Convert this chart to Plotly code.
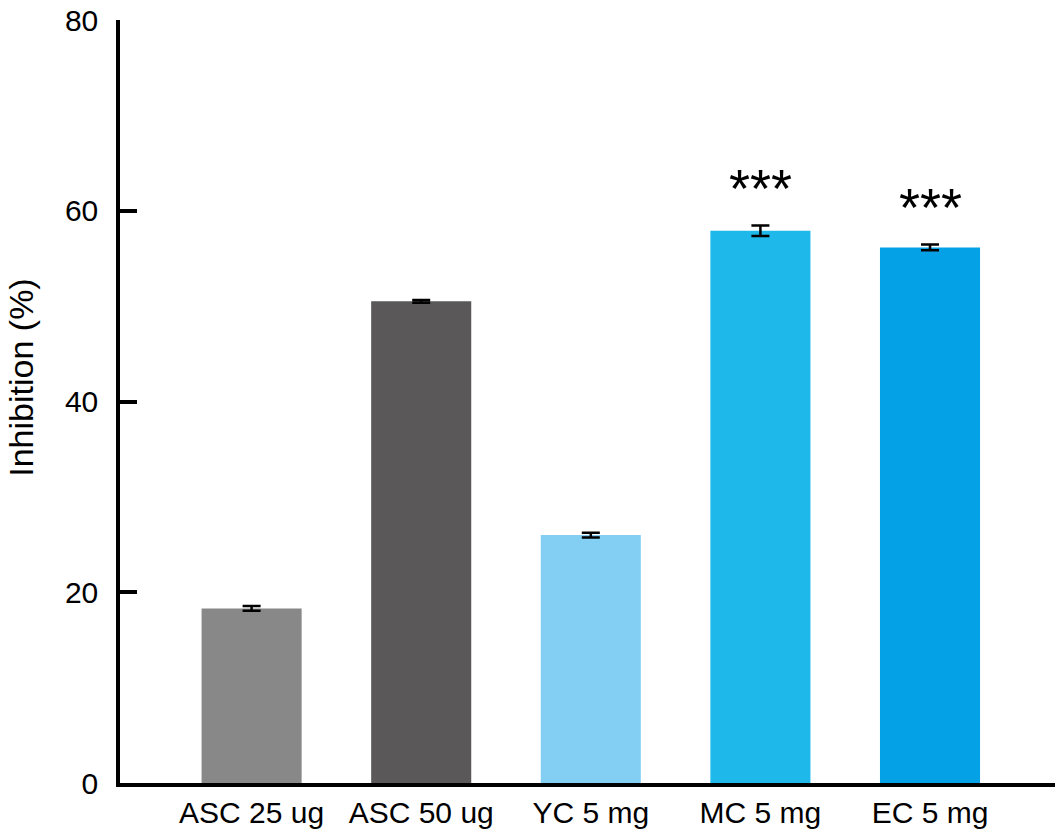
import plotly.graph_objects as go

categories = ["ASC 25 ug", "ASC 50 ug", "YC 5 mg", "MC 5 mg", "EC 5 mg"]
inhibition = [18.3, 50.5, 26.0, 57.9, 56.15]
errors = [0.25, 0.15, 0.25, 0.55, 0.3]
significance = ["", "", "", "***", "***"]
bar_colors = ["#888888", "#5a5859", "#83cff4", "#1fb8eb", "#05a1e6"]
y_ticks = [0, 20, 40, 60, 80]

fig = go.Figure()
fig.add_trace(go.Bar(
    x=categories, y=inhibition,
    marker=dict(color=bar_colors, line=dict(width=0)),
    width=0.59,
    error_y=dict(type="data", array=errors, visible=True,
                 color="black", thickness=2.5, width=9),
    showlegend=False,
))

for c, v, e, s in zip(categories, inhibition, errors, significance):
    if s:
        fig.add_annotation(x=c, y=v + e, text=s, showarrow=False,
                           xanchor="center", yanchor="middle", yshift=38,
                           font=dict(family="Liberation Sans, Arial", size=54, color="black"))

fig.add_annotation(xref="paper", yref="paper", x=-0.106, y=0.531,
                   text="Inhibition (%)", textangle=-90, showarrow=False,
                   xanchor="center", yanchor="middle",
                   font=dict(family="Liberation Sans, Arial", size=34, color="black"))

fig.update_layout(
    width=1058, height=832,
    margin=dict(l=120, r=3, t=16, b=47),
    paper_bgcolor="white", plot_bgcolor="white",
    font=dict(family="Liberation Sans, Arial", color="black"),
    bargap=0.41,
)
fig.update_xaxes(
    range=[-0.776, 4.737], showgrid=False, zeroline=False,
    showline=True, linecolor="black", linewidth=3.5,
    ticks="", tickfont=dict(size=30, color="black"),
)
fig.update_yaxes(
    range=[0, 80], tickvals=y_ticks, showgrid=False, zeroline=False,
    showline=True, linecolor="black", linewidth=3.5,
    ticks="inside", ticklen=17, tickwidth=3.5, tickcolor="black",
    tickfont=dict(size=30, color="black"), ticklabelstandoff=12,
    ticklabeloverflow="allow",
)

fig.write_html("out.html")
